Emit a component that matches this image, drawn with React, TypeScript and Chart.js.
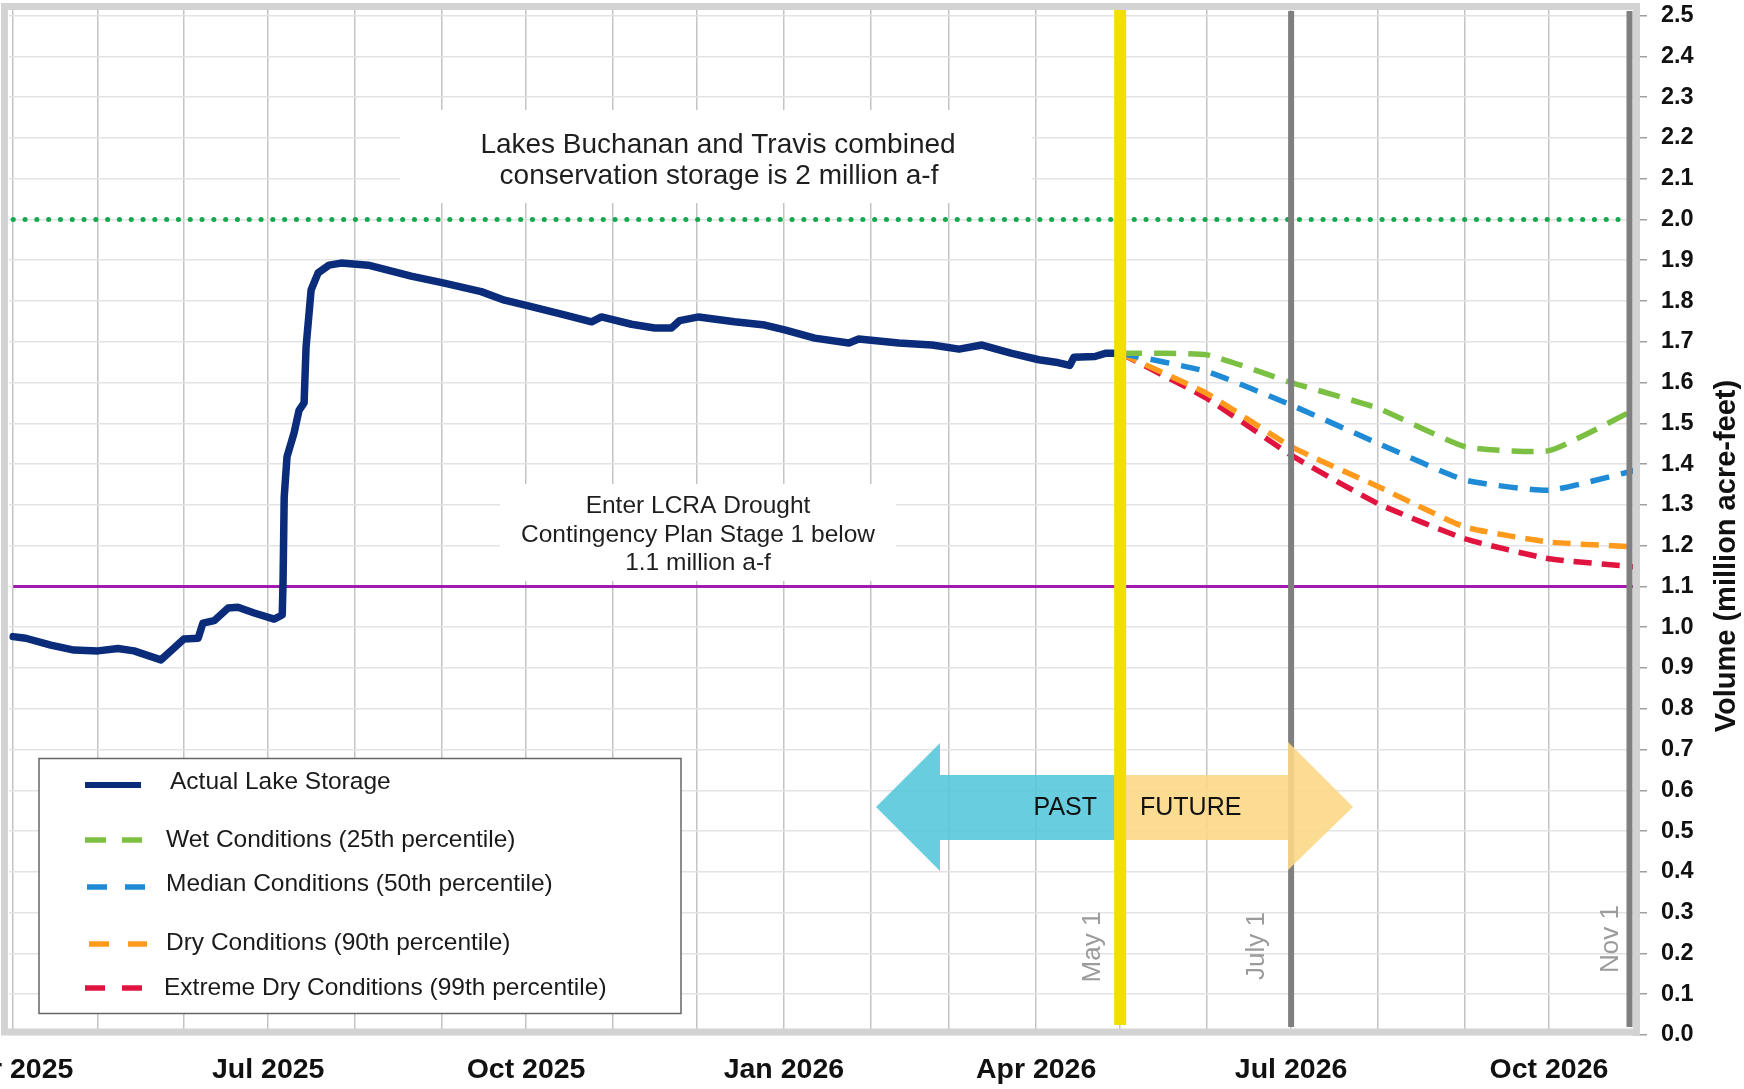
import React, { useEffect, useRef } from "react";
import { Chart, registerables } from "chart.js";

Chart.register(...registerables);

// x values are days counted from 1 April 2025
const actualDays = [0, 4.5, 13.4, 21.7, 30.2, 37.4, 43.1, 52.7, 57.4, 60.9, 66, 67.7, 71.7, 76.7, 80.2, 86, 93.1, 96, 96.3, 96.7, 97.7, 100.2, 102, 103.8, 104.5, 106.3, 108.8, 112.7, 117, 126.7, 142, 153.8, 167, 175.3, 183.8, 196.7, 206.4, 209.9, 220.6, 228.9, 234.9, 237.8, 244.6, 257.4, 268.2, 275.3, 286, 298.2, 301.7, 316, 327.9, 337.5, 345.7, 356, 366, 372, 377, 378.5, 386, 390, 395];
const actualStorage = [0.977, 0.973, 0.956, 0.944, 0.942, 0.948, 0.942, 0.92, 0.949, 0.971, 0.973, 1.01, 1.016, 1.047, 1.049, 1.035, 1.02, 1.03, 1.116, 1.319, 1.418, 1.476, 1.532, 1.55, 1.687, 1.827, 1.869, 1.888, 1.893, 1.888, 1.861, 1.844, 1.823, 1.802, 1.788, 1.766, 1.749, 1.761, 1.743, 1.734, 1.734, 1.752, 1.761, 1.749, 1.741, 1.729, 1.709, 1.697, 1.707, 1.697, 1.692, 1.682, 1.692, 1.672, 1.656, 1.65, 1.642, 1.662, 1.664, 1.672, 1.672];

const projectionDays = [395, 426, 456, 487, 518, 548, 579];
const wetConditions = [1.672, 1.668, 1.6, 1.537, 1.443, 1.433, 1.535];
const medianConditions = [1.672, 1.627, 1.545, 1.451, 1.361, 1.336, 1.385];
const dryConditions = [1.672, 1.573, 1.443, 1.345, 1.246, 1.209, 1.197];
const extremeDryConditions = [1.672, 1.561, 1.422, 1.303, 1.217, 1.168, 1.148];

const conservationStorage = 2.0;
const conservationDays = [0, 575];
const droughtStage1 = 1.1;
const droughtDays = [0, 578];

const markerDays = [395, 456, 579];
const markerLabels = ["May 1", "July 1", "Nov 1"];

const xTickLabels = ["Apr 2025", "", "", "Jul 2025", "", "", "Oct 2025", "", "", "Jan 2026", "", "", "Apr 2026", "", "", "Jul 2026", "", "", "Oct 2026", ""];
const yTickValues = [0, 0.1, 0.2, 0.3, 0.4, 0.5, 0.6, 0.7, 0.8, 0.9, 1.0, 1.1, 1.2, 1.3, 1.4, 1.5, 1.6, 1.7, 1.8, 1.9, 2.0, 2.1, 2.2, 2.3, 2.4, 2.5];

const legendLabels = [
  "Actual Lake Storage",
  "Wet Conditions (25th percentile)",
  "Median Conditions (50th percentile)",
  "Dry Conditions (90th percentile)",
  "Extreme Dry Conditions (99th percentile)",
];
const conservationNote = ["Lakes Buchanan and Travis combined", "conservation storage is 2 million a-f"];
const droughtNote = ["Enter LCRA Drought", "Contingency Plan Stage 1 below", "1.1 million a-f"];
const pastLabel = "PAST";
const futureLabel = "FUTURE";
const yAxisTitle = "Volume (million acre-feet)";

const startUTC = Date.UTC(2025, 3, 1);
const monthStartDays: number[] = [];
for (let i = 0; i < xTickLabels.length; i++) {
  monthStartDays.push(Math.round((Date.UTC(2025, 3 + i, 1) - startUTC) / 86400000));
}

const FONT = "'Liberation Sans', Arial, Helvetica, sans-serif";
const NAVY = "#0b2c7a";
const GREEN = "#7cc043";
const BLUE = "#1f8ad6";
const ORANGE = "#ff9a1c";
const RED = "#e0143f";

const seriesStyles = [
  { color: NAVY, dash: [] as number[] },
  { color: GREEN, dash: [22, 12] },
  { color: BLUE, dash: [19, 12] },
  { color: ORANGE, dash: [18, 10] },
  { color: RED, dash: [18, 10] },
];

const pts = (xs: number[], ys: number[]) => xs.map((x, i) => ({ x, y: ys[i] }));

const overlayPlugin = {
  id: "overlay",
  beforeDatasetsDraw(chart: any) {
    const ctx = chart.ctx;
    ctx.save();
    ctx.fillStyle = "#ffffff";
    ctx.fillRect(400, 110, 632, 93);
    ctx.fillRect(500, 484, 396, 97);
    ctx.fillStyle = "#1e1e1e";
    ctx.textAlign = "center";
    ctx.textBaseline = "middle";
    ctx.font = `28px ${FONT}`;
    ctx.fillText(conservationNote[0], 718, 145);
    ctx.fillText(conservationNote[1], 719, 176);
    ctx.font = `24.5px ${FONT}`;
    ctx.fillText(droughtNote[0], 698, 506);
    ctx.fillText(droughtNote[1], 698, 535);
    ctx.fillText(droughtNote[2], 698, 563);
    ctx.restore();
  },
  afterDatasetsDraw(chart: any) {
    const ctx = chart.ctx;
    const xs = chart.scales.x;
    const ca = chart.chartArea;
    ctx.save();
    // gray markers (July 1, Nov 1)
    const mx = markerDays.map((d) => Math.min(xs.getPixelForValue(d), ca.right - 3.5));
    ctx.strokeStyle = "#7f7f7f";
    ctx.lineWidth = 6;
    for (let i = 1; i < mx.length; i++) {
      ctx.beginPath();
      ctx.moveTo(mx[i], ca.top + 1);
      ctx.lineTo(mx[i], ca.bottom - 8);
      ctx.stroke();
    }
    // arrows
    const poly = (p: number[][], fill: string) => {
      ctx.beginPath();
      ctx.moveTo(p[0][0], p[0][1]);
      for (let i = 1; i < p.length; i++) ctx.lineTo(p[i][0], p[i][1]);
      ctx.closePath();
      ctx.fillStyle = fill;
      ctx.fill();
    };
    const y0 = mx[0];
    poly([[y0 - 3, 775], [940, 775], [940, 743], [876, 807], [940, 871], [940, 840], [y0 - 3, 840]], "rgba(84,198,220,0.88)");
    poly([[y0 + 1, 775], [1288, 775], [1288, 742], [1353, 807], [1288, 870], [1288, 840], [y0 + 1, 840]], "rgba(252,216,134,0.9)");
    ctx.fillStyle = "#111";
    ctx.font = `25px ${FONT}`;
    ctx.textBaseline = "middle";
    ctx.textAlign = "right";
    ctx.fillText(pastLabel, 1097, 808);
    ctx.textAlign = "left";
    ctx.fillText(futureLabel, 1140, 808);
    // yellow May 1 line
    ctx.strokeStyle = "#f2df00";
    ctx.lineWidth = 12;
    ctx.beginPath();
    ctx.moveTo(mx[0], ca.top - 4);
    ctx.lineTo(mx[0], ca.bottom - 10);
    ctx.stroke();
    // rotated marker labels
    const offs = [-27, -34, -18.5];
    const cys = [947, 946, 939];
    ctx.fillStyle = "#9b9b9b";
    ctx.font = `26px ${FONT}`;
    ctx.textAlign = "center";
    for (let i = 0; i < markerLabels.length; i++) {
      ctx.save();
      ctx.translate(mx[i] + offs[i], cys[i]);
      ctx.rotate(-Math.PI / 2);
      ctx.fillText(markerLabels[i], 0, 0);
      ctx.restore();
    }
    // legend
    ctx.fillStyle = "#ffffff";
    ctx.fillRect(39, 758.5, 642, 255);
    ctx.strokeStyle = "#666";
    ctx.lineWidth = 1.5;
    ctx.strokeRect(39, 758.5, 642, 255);
    const ly = [785, 840, 887, 944, 988];
    const ty = [782, 840, 884, 943, 988];
    const tx = [170, 166, 166, 166, 164];
    const segs = [
      [[85, 141]],
      [[85, 106], [122, 142]],
      [[87, 107], [125, 145]],
      [[89, 109], [128, 147]],
      [[85, 105], [122, 142]],
    ];
    for (let i = 0; i < legendLabels.length; i++) {
      ctx.strokeStyle = seriesStyles[i].color;
      ctx.lineWidth = i === 0 ? 6 : 5.5;
      ctx.setLineDash([]);
      for (const s of segs[i]) {
        ctx.beginPath();
        ctx.moveTo(s[0], ly[i]);
        ctx.lineTo(s[1], ly[i]);
        ctx.stroke();
      }
      ctx.fillStyle = "#1a1a1a";
      ctx.font = `24.5px ${FONT}`;
      ctx.textAlign = "left";
      ctx.textBaseline = "middle";
      ctx.fillText(legendLabels[i], tx[i], ty[i]);
    }
    ctx.restore();
  },
  afterDraw(chart: any) {
    const ctx = chart.ctx;
    const ca = chart.chartArea;
    ctx.save();
    ctx.strokeStyle = "#d3d3d3";
    ctx.lineWidth = 7;
    ctx.strokeRect(ca.left - 4.5, ca.top - 3.5, ca.right + 3.5 - (ca.left - 4.5), ca.bottom - 3 - (ca.top - 3.5));
    ctx.fillStyle = "#111";
    ctx.font = `bold 29px ${FONT}`;
    ctx.textAlign = "center";
    ctx.textBaseline = "middle";
    ctx.translate(1727, 556);
    ctx.rotate(-Math.PI / 2);
    ctx.fillText(yAxisTitle, 0, 0);
    ctx.restore();
  },
};

export default function App() {
  const ref = useRef<HTMLCanvasElement | null>(null);
  useEffect(() => {
    if (!ref.current) return;
    const dashed = (label: string, ys: number[], i: number) => ({
      label,
      data: pts(projectionDays, ys),
      borderColor: seriesStyles[i].color,
      borderWidth: 5.5,
      borderDash: seriesStyles[i].dash,
      pointRadius: 0,
      tension: 0.15,
      fill: false,
    });
    const chart = new Chart(ref.current, {
      type: "line",
      data: {
        datasets: [
          {
            label: legendLabels[0],
            data: pts(actualDays, actualStorage),
            borderColor: NAVY,
            borderWidth: 7.5,
            pointRadius: 0,
            tension: 0,
            borderJoinStyle: "round",
            borderCapStyle: "round",
            fill: false,
          },
          dashed(legendLabels[1], wetConditions, 1),
          dashed(legendLabels[2], medianConditions, 2),
          dashed(legendLabels[3], dryConditions, 3),
          dashed(legendLabels[4], extremeDryConditions, 4),
          {
            label: "Conservation storage",
            data: conservationDays.map((x) => ({ x, y: conservationStorage })),
            borderColor: "#14a84f",
            borderWidth: 5,
            borderDash: [0.1, 11.7],
            borderCapStyle: "round",
            pointRadius: 0,
            fill: false,
          },
          {
            label: "Drought Stage 1",
            data: droughtDays.map((x) => ({ x, y: droughtStage1 })),
            borderColor: "#a11cae",
            borderWidth: 3,
            pointRadius: 0,
            fill: false,
          },
        ] as any,
      },
      options: {
        animation: false,
        responsive: false,
        devicePixelRatio: 1,
        layout: { padding: { left: 9, top: 10, right: 0, bottom: 0 } },
        plugins: { legend: { display: false }, tooltip: { enabled: false } },
        scales: {
          x: {
            type: "linear",
            position: "bottom",
            min: -1.5,
            max: 578,
            afterBuildTicks: (scale: any) => {
              scale.ticks = monthStartDays.filter((v) => v <= scale.max).map((v) => ({ value: v }));
            },
            afterFit: (scale: any) => {
              scale.height = 54;
              scale.paddingLeft = 0;
              scale.paddingRight = 0;
            },
            grid: { color: "#c4c4c4", lineWidth: 1.5, drawTicks: false },
            border: { display: false },
            ticks: {
              autoSkip: false,
              maxRotation: 0,
              minRotation: 0,
              padding: 18,
              color: "#111",
              font: { family: FONT, size: 28.5, weight: "bold" },
              callback: (v: any) => {
                const idx = monthStartDays.indexOf(Number(v));
                return idx >= 0 ? xTickLabels[idx] : "";
              },
            },
          },
          y: {
            type: "linear",
            position: "right",
            min: 0,
            max: 2.5137,
            afterBuildTicks: (scale: any) => {
              scale.ticks = yTickValues.map((v) => ({ value: v }));
            },
            afterFit: (scale: any) => {
              scale.width = 111;
              scale.paddingTop = 0;
              scale.paddingBottom = 0;
            },
            grid: { color: "#e3e3e3", lineWidth: 1.5, drawTicks: true, tickLength: 14, tickColor: "#a0a0a0", tickWidth: 1.5 },
            border: { display: false },
            ticks: {
              padding: 14,
              color: "#111",
              font: { family: FONT, size: 23.5, weight: "bold" },
              callback: (v: any) => Number(v).toFixed(1),
            },
          },
        },
      } as any,
      plugins: [overlayPlugin],
    });
    return () => chart.destroy();
  }, []);

  return (
    <div style={{ position: "fixed", left: 0, top: 0, width: 1744, height: 1089, background: "#fff", overflow: "hidden" }}>
      <canvas ref={ref} width={1744} height={1089} style={{ display: "block" }} />
    </div>
  );
}
